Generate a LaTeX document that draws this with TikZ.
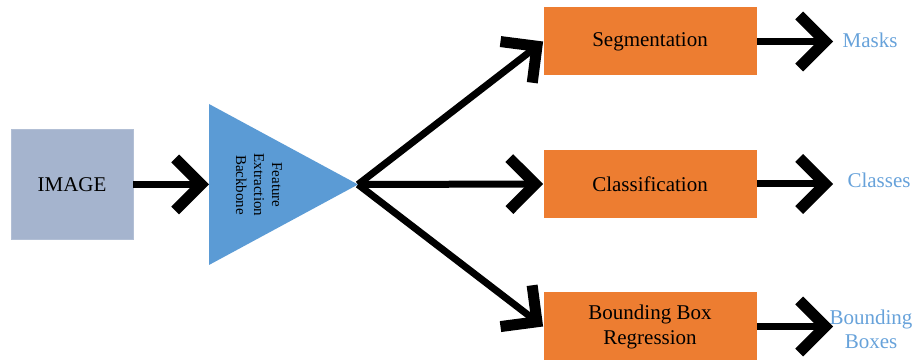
\documentclass[tikz,border=0pt]{standalone}
\usepackage{xcolor}
\usepackage{fontspec}
\setmainfont{Liberation Serif}
\usetikzlibrary{arrows.meta}
\definecolor{imgblue}{HTML}{A5B4CE}
\definecolor{bbblue}{HTML}{5B9BD5}
\definecolor{headorange}{HTML}{ED7D31}
\definecolor{resblue}{HTML}{67A2DA}
\tikzset{
	head/.style={fill=headorange, minimum width=106.5pt, minimum height=34pt, align=center, font=\fontsize{10.5}{12.5}\selectfont},
	result/.style={text=resblue, inner sep=0pt, align=center, font=\fontsize{10.5}{12}\selectfont},
	arr/.style={line width=3.5pt, -{Straight Barb[length=13pt,width=26pt,line width=5.5pt,line join=miter]}}
}

\begin{document}
\begin{tikzpicture}[x=0.5pt,y=-0.5pt]
\useasboundingbox (0,0) rectangle (914,362);

\node[fill=imgblue, draw=imgblue!85!white, minimum width=61pt, minimum height=55pt, font=\fontsize{10.5}{12.5}\selectfont] (img) at (72,184.5) {IMAGE};

\fill[bbblue] (209,104) -- (358,184.5) -- (209,265) -- cycle;
\coordinate (tl) at (209,184.5);
\coordinate (apex) at (358,184.5);
\node[rotate=-90, align=center, font=\fontsize{7.5}{9}\selectfont] (fe) at (259,185) {Feature\\Extraction\\Backbone};

\draw[arr] (img.east) -- (tl);

\node[head] (seg) at (650,41.5) {Segmentation};
\node[head] (cls) at (650,184) {Classification};
\node[head] (reg) at (650,326.5) {Bounding Box\\Regression};

\foreach \b in {seg,cls,reg}
\draw[arr] (apex) -- (\b.west);

\coordinate (m) at (833,41.5);
\coordinate (c) at (833,184);
\coordinate (b) at (833,326.5);
\node[result] (masks) at (870,40) {Masks};
\node[result] (classes) at (879,180) {Classes};
\node[result] (boxes) at (871,329) {Bounding\\Boxes};

\draw[arr] (seg.east) -- (m);
\draw[arr] (cls.east) -- (c);
\draw[arr] (reg.east) -- (b);

\end{tikzpicture}
\end{document}
